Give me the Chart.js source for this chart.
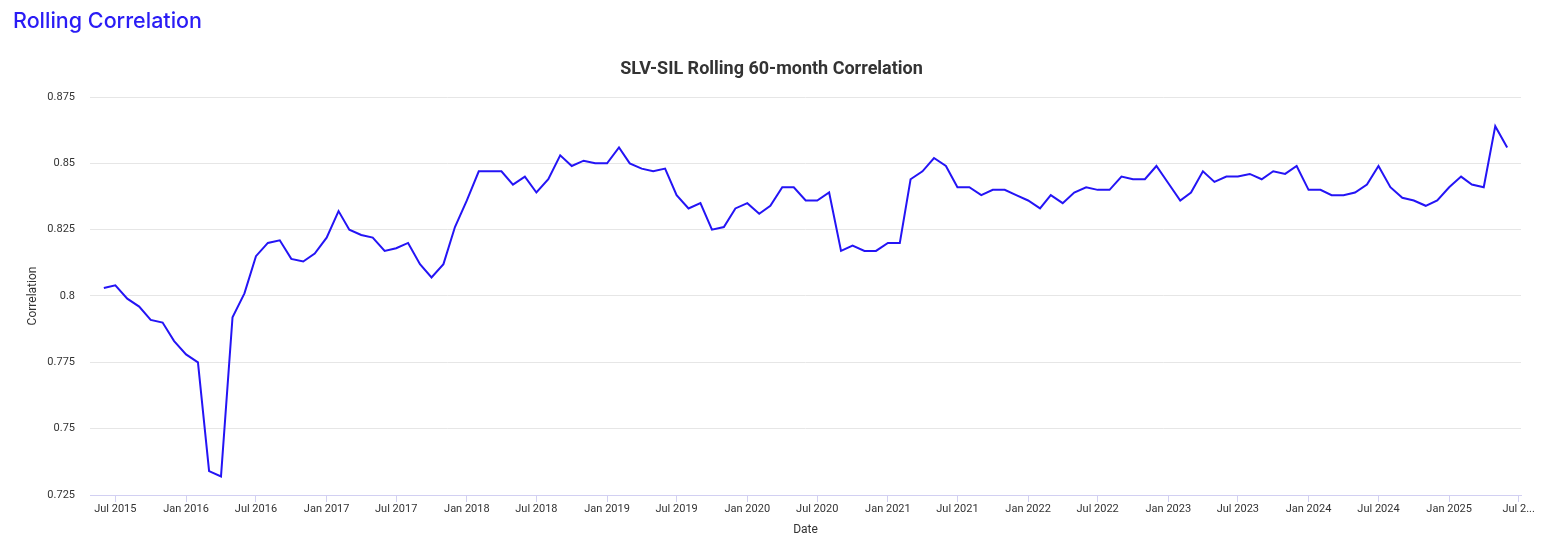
<!DOCTYPE html>
<html>
<head>
<meta charset="utf-8">
<title>Rolling Correlation</title>
<script src="https://cdn.jsdelivr.net/npm/chart.js@4.4.1/dist/chart.umd.min.js"></script>
<style>
  html, body { margin: 0; padding: 0; background: #fff; }
  #wrap { position: relative; width: 1553px; height: 547px; }
  #heading {
    position: absolute; left: 13px; top: 7px; margin: 0;
    font: 500 21.5px Inter, "Open Sans", sans-serif; color: #2a1cf5;
    line-height: 26px;
  }
  #chart { position: absolute; left: 0; top: 0; }
</style>
</head>
<body>
<div id="wrap">
  <canvas id="chart" width="1553" height="547"></canvas>
  <h2 id="heading">Rolling Correlation</h2>
</div>
<script>
// Months of the series (first day of each month)
const months = [
  '2015-06', '2015-07', '2015-08', '2015-09', '2015-10', '2015-11', '2015-12',
  '2016-01', '2016-02', '2016-03', '2016-04', '2016-05', '2016-06', '2016-07', '2016-08', '2016-09', '2016-10', '2016-11', '2016-12',
  '2017-01', '2017-02', '2017-03', '2017-04', '2017-05', '2017-06', '2017-07', '2017-08', '2017-09', '2017-10', '2017-11', '2017-12',
  '2018-01', '2018-02', '2018-03', '2018-04', '2018-05', '2018-06', '2018-07', '2018-08', '2018-09', '2018-10', '2018-11', '2018-12',
  '2019-01', '2019-02', '2019-03', '2019-04', '2019-05', '2019-06', '2019-07', '2019-08', '2019-09', '2019-10', '2019-11', '2019-12',
  '2020-01', '2020-02', '2020-03', '2020-04', '2020-05', '2020-06', '2020-07', '2020-08', '2020-09', '2020-10', '2020-11', '2020-12',
  '2021-01', '2021-02', '2021-03', '2021-04', '2021-05', '2021-06', '2021-07', '2021-08', '2021-09', '2021-10', '2021-11', '2021-12',
  '2022-01', '2022-02', '2022-03', '2022-04', '2022-05', '2022-06', '2022-07', '2022-08', '2022-09', '2022-10', '2022-11', '2022-12',
  '2023-01', '2023-02', '2023-03', '2023-04', '2023-05', '2023-06', '2023-07', '2023-08', '2023-09', '2023-10', '2023-11', '2023-12',
  '2024-01', '2024-02', '2024-03', '2024-04', '2024-05', '2024-06', '2024-07', '2024-08', '2024-09', '2024-10', '2024-11', '2024-12',
  '2025-01', '2025-02', '2025-03', '2025-04', '2025-05', '2025-06'
];

// SLV-SIL rolling 60-month correlation
const correlation = [
  0.803, 0.804, 0.799, 0.796, 0.791, 0.790, 0.783,
  0.778, 0.775, 0.734, 0.732, 0.792, 0.801, 0.815, 0.820, 0.821, 0.814, 0.813, 0.816,
  0.822, 0.832, 0.825, 0.823, 0.822, 0.817, 0.818, 0.820, 0.812, 0.807, 0.812, 0.826,
  0.836, 0.847, 0.847, 0.847, 0.842, 0.845, 0.839, 0.844, 0.853, 0.849, 0.851, 0.850,
  0.850, 0.856, 0.850, 0.848, 0.847, 0.848, 0.838, 0.833, 0.835, 0.825, 0.826, 0.833,
  0.835, 0.831, 0.834, 0.841, 0.841, 0.836, 0.836, 0.839, 0.817, 0.819, 0.817, 0.817,
  0.820, 0.820, 0.844, 0.847, 0.852, 0.849, 0.841, 0.841, 0.838, 0.840, 0.840, 0.838,
  0.836, 0.833, 0.838, 0.835, 0.839, 0.841, 0.840, 0.840, 0.845, 0.844, 0.844, 0.849,
  0.8425, 0.836, 0.839, 0.847, 0.843, 0.845, 0.845, 0.846, 0.844, 0.847, 0.846, 0.849,
  0.840, 0.840, 0.838, 0.838, 0.839, 0.842, 0.849, 0.841, 0.837, 0.836, 0.834, 0.836,
  0.841, 0.845, 0.842, 0.841, 0.864, 0.856
];

// Axis ticks
const xTickMonths = [
  '2015-07', '2016-01', '2016-07', '2017-01', '2017-07', '2018-01', '2018-07', '2019-01', '2019-07',
  '2020-01', '2020-07', '2021-01', '2021-07', '2022-01', '2022-07', '2023-01', '2023-07',
  '2024-01', '2024-07', '2025-01', '2025-07'
];
const xTickLabels = [
  'Jul 2015', 'Jan 2016', 'Jul 2016', 'Jan 2017', 'Jul 2017', 'Jan 2018', 'Jul 2018', 'Jan 2019', 'Jul 2019',
  'Jan 2020', 'Jul 2020', 'Jan 2021', 'Jul 2021', 'Jan 2022', 'Jul 2022', 'Jan 2023', 'Jul 2023',
  'Jan 2024', 'Jul 2024', 'Jan 2025', 'Jul 2025'
];
const yTicks = [0.725, 0.75, 0.775, 0.8, 0.825, 0.85, 0.875];
const yTickLabels = ['0.725', '0.75', '0.775', '0.8', '0.825', '0.85', '0.875'];

// 'YYYY-MM' -> day number, so months keep their real length
function toDay(ym) {
  const [y, m] = ym.split('-').map(Number);
  return Date.UTC(y, m - 1, 1) / 86400000;
}

const points = months.map((m, i) => ({ x: toDay(m), y: correlation[i] }));
const axisColor = '#d2d0f2';
const textColor = '#333333';

Chart.defaults.font.family = 'Roboto, "Noto Sans", sans-serif';
Chart.defaults.color = textColor;

new Chart(document.getElementById('chart'), {
  type: 'line',
  data: {
    datasets: [{
      label: 'Correlation',
      data: points,
      borderColor: '#2414f5',
      borderWidth: 2,
      pointRadius: 0,
      tension: 0,
      fill: false
    }]
  },
  options: {
    responsive: false,
    animation: false,
    layout: { padding: { top: 49, left: 22, right: 32, bottom: 0 } },
    plugins: {
      legend: { display: false },
      tooltip: { enabled: false },
      title: {
        display: true,
        text: 'SLV-SIL Rolling 60-month Correlation',
        color: textColor,
        font: { size: 18, weight: 'bold' },
        padding: { top: 10, bottom: 16.4 }
      }
    },
    scales: {
      x: {
        type: 'linear',
        min: toDay('2015-07') - 66,
        max: toDay('2025-07') + 6,
        afterBuildTicks: (scale) => {
          scale.ticks = xTickMonths.map((m) => ({ value: toDay(m) }));
        },
        afterFit: (scale) => { scale.height = 52; },
        ticks: {
          autoSkip: false,
          maxRotation: 0,
          padding: 1,
          font: { size: 11 },
          color: textColor,
          callback: (value, index) => {
            const label = xTickLabels[index];
            // the last label runs past the edge in the original and is cut
            return index === xTickLabels.length - 1 ? label.slice(0, 5) + '...' : label;
          }
        },
        grid: { drawOnChartArea: false, drawTicks: true, tickLength: 7, color: axisColor },
        border: { display: true, color: axisColor },
        title: { display: true, text: 'Date', font: { size: 12 }, color: textColor, padding: { top: 4, bottom: 10 } }
      },
      y: {
        min: 0.725,
        max: 0.875,
        afterBuildTicks: (scale) => {
          scale.ticks = yTicks.map((v) => ({ value: v }));
        },
        afterFit: (scale) => { scale.width = 68; },
        ticks: {
          padding: 15,
          font: { size: 11 },
          color: textColor,
          callback: (value, index) => yTickLabels[index]
        },
        grid: { color: '#e6e6e6', drawTicks: false },
        border: { display: false },
        title: { display: true, text: 'Correlation', font: { size: 12 }, color: textColor, padding: { top: 4, bottom: 7 } }
      }
    }
  }
});
</script>
</body>
</html>
